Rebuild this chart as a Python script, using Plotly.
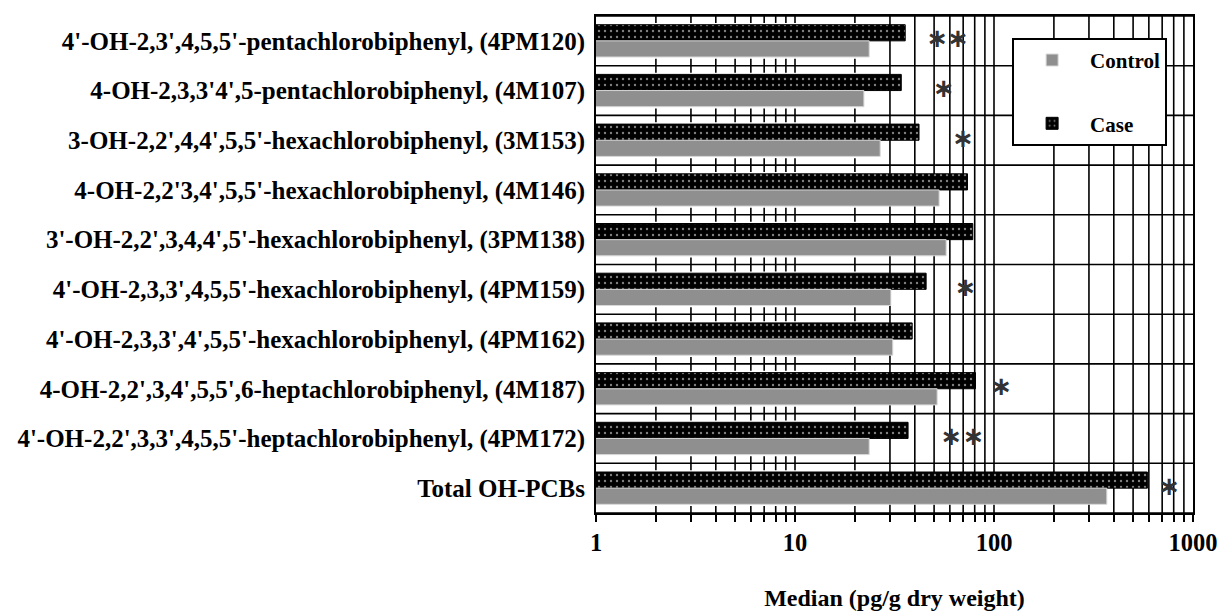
import plotly.graph_objects as go

labels = [
    "4'-OH-2,3',4,5,5'-pentachlorobiphenyl, (4PM120)",
    "4-OH-2,3,3'4',5-pentachlorobiphenyl, (4M107)",
    "3-OH-2,2',4,4',5,5'-hexachlorobiphenyl, (3M153)",
    "4-OH-2,2'3,4',5,5'-hexachlorobiphenyl, (4M146)",
    "3'-OH-2,2',3,4,4',5'-hexachlorobiphenyl, (3PM138)",
    "4'-OH-2,3,3',4,5,5'-hexachlorobiphenyl, (4PM159)",
    "4'-OH-2,3,3',4',5,5'-hexachlorobiphenyl, (4PM162)",
    "4-OH-2,2',3,4',5,5',6-heptachlorobiphenyl, (4M187)",
    "4'-OH-2,2',3,3',4,5,5'-heptachlorobiphenyl, (4PM172)",
    "Total OH-PCBs",
]
control = [23.6, 22.2, 26.8, 53, 57.5, 30.3, 31, 51.8, 23.6, 369]
case = [35.8, 34.2, 42, 73.6, 78.2, 45.6, 38.8, 80.7, 37, 590]
# asterisk positions (x values) per row
stars = [[52, 66], [56], [70], [], [], [72], [], [109], [61, 79], [760]]

x_major = [1, 10, 100, 1000]
x_minor = [2, 3, 4, 5, 6, 7, 8, 9, 20, 30, 40, 50, 60, 70, 80, 90,
           200, 300, 400, 500, 600, 700, 800, 900]
full_grid = [30, 40, 50, 60, 70, 80, 90, 100, 200, 300, 400, 500, 600, 700, 800, 900]
stub_grid = [2, 3, 4, 5, 6, 7, 8, 9, 10, 20]

rows = list(range(len(labels)))
FONT = "Liberation Serif"

fig = go.Figure()
fig.add_trace(go.Bar(
    y=rows, x=case, orientation="h", name="Case", legendrank=2,
    legendgroup="b",
    marker=dict(color="black", line=dict(color="black", width=1),
                pattern=dict(shape=".", fgcolor="white", bgcolor="black",
                             size=6, solidity=0.12)),
))
fig.add_trace(go.Bar(
    y=rows, x=control, orientation="h", name="Control", legendrank=1,
    legendgroup="a",
    marker=dict(color="#8f8f8f", line=dict(color="#d8d8d8", width=1)),
))

sx, sy = [], []
for r, lst in zip(rows, stars):
    for v in lst:
        sx.append(v)
        sy.append(r)
fig.add_trace(go.Scatter(
    x=sx, y=sy, mode="text", text=["∗"] * len(sx), showlegend=False,
    textfont=dict(family="DejaVu Sans", size=26, color="#333333"),
    textposition="middle center", hoverinfo="skip",
))

n = len(labels)
top, bot = -0.5, n - 0.5
stub = 0.14
shapes = []
lw = 1.6
for i in range(n + 1):
    b = i - 0.5
    shapes.append(dict(type="line", xref="x", yref="y", x0=1, x1=1000, y0=b, y1=b,
                       line=dict(color="black", width=lw), layer="below"))
    for v in stub_grid:
        shapes.append(dict(type="line", xref="x", yref="y", x0=v, x1=v,
                           y0=max(b - stub, top), y1=min(b + stub, bot),
                           line=dict(color="black", width=lw), layer="below"))
for v in full_grid:
    shapes.append(dict(type="line", xref="x", yref="y", x0=v, x1=v, y0=top, y1=bot,
                       line=dict(color="black", width=lw), layer="below"))

fig.update_layout(
    width=1220, height=614,
    margin=dict(l=596, r=27, t=16, b=101, autoexpand=False),
    paper_bgcolor="white", plot_bgcolor="white",
    barmode="group", bargap=0.35, bargroupgap=0.0,
    shapes=shapes,
    font=dict(family=FONT, color="black", size=22, weight="bold"),
    showlegend=True,
    legend=dict(x=0.697, y=0.956, xanchor="left", yanchor="top",
                bgcolor="white", bordercolor="black", borderwidth=2,
                font=dict(family=FONT, size=21, weight="bold", color="black"),
                tracegroupgap=33, itemwidth=66),
)
fig.update_xaxes(
    type="log", range=[0, 3], tickvals=x_major, ticktext=[str(v) for v in x_major],
    ticks="outside", ticklen=7, tickwidth=1.6, tickcolor="black",
    minor=dict(tickvals=x_minor, ticks="outside", ticklen=7, tickwidth=1.6, tickcolor="black",
               showgrid=False),
    showgrid=False, zeroline=False, showline=True, linecolor="black", linewidth=2,
    mirror=True, ticklabelstandoff=0, automargin=False,
    tickfont=dict(family=FONT, size=24.5, weight="bold", color="black"),
    title=dict(text="Median (pg/g dry weight)", standoff=34,
               font=dict(family=FONT, size=24, weight="bold", color="black")),
)
fig.update_yaxes(
    range=[bot, top], tickvals=rows, ticktext=labels, ticks="",
    showgrid=False, zeroline=False, showline=True, linecolor="black", linewidth=2,
    mirror=True, ticklabelstandoff=4, automargin=False,
    tickfont=dict(family=FONT, size=25, weight="bold", color="black"),
)

fig.write_html("out.html", config={"displayModeBar": False},
               post_script="document.body.style.margin='0';")
